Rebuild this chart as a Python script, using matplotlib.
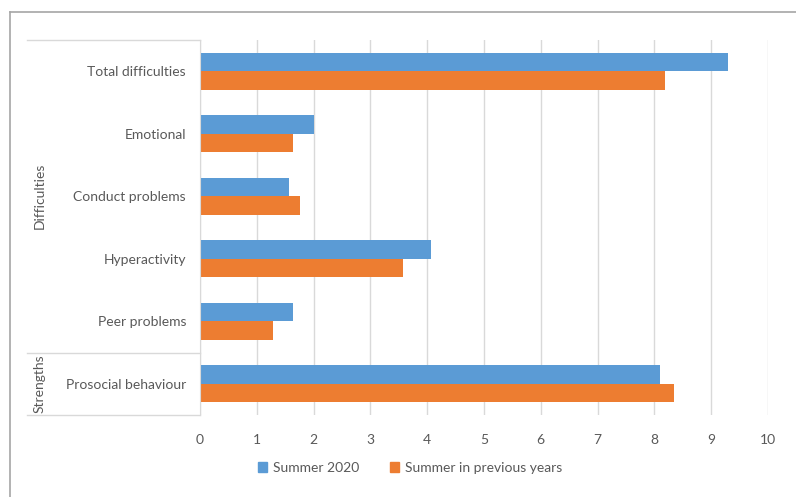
import numpy as np
import matplotlib
matplotlib.use("Agg")
import matplotlib.pyplot as plt
import matplotlib.transforms as mtransforms
from matplotlib.lines import Line2D
from matplotlib.patches import Patch

# data (top to bottom as in the chart)
categories = ["Total difficulties", "Emotional", "Conduct problems",
              "Hyperactivity", "Peer problems", "Prosocial behaviour"]
summer_2020 = [9.29, 2.01, 1.57, 4.07, 1.64, 8.09]
summer_prev = [8.18, 1.64, 1.76, 3.57, 1.29, 8.34]
x_ticks = list(range(0, 11))

blue = "#5B9BD5"
orange = "#ED7D31"
text_col = "#595959"
grid_col = "#D9D9D9"

plt.rcParams["font.family"] = ["Lato", "DejaVu Sans"]

W, H = 796, 497
fig = plt.figure(figsize=(W / 100, H / 100), dpi=100)
ax = fig.add_axes([200 / W, 1 - 415 / H, 568 / W, 375 / H])

n = len(categories)
y = np.arange(n)[::-1]  # first category at top
h = 0.296
ax.barh(y + h / 2, summer_2020, height=h, color=blue, label="Summer 2020", zorder=3)
ax.barh(y - h / 2, summer_prev, height=h, color=orange, label="Summer in previous years", zorder=3)

ax.set_xlim(0, 10)
ax.set_ylim(-0.5, n - 0.5)
ax.set_xticks(x_ticks)
ax.set_yticks(y)
ax.set_yticklabels(categories)
ax.tick_params(axis="both", length=0, labelsize=10, labelcolor=text_col)
ax.tick_params(axis="y", pad=10)
ax.tick_params(axis="x", pad=14)
ax.grid(axis="x", color=grid_col, linewidth=1, zorder=0)
for s in ["top", "right", "bottom"]:
    ax.spines[s].set_visible(False)
ax.spines["left"].set_color(grid_col)
ax.spines["left"].set_zorder(4)

# multi-level category box lines
xl = (27 - 200) / 568
box_kw = dict(color=grid_col, linewidth=1, clip_on=False)
ax.plot([xl, 0], [1, 1], transform=ax.transAxes, **box_kw)
ax.plot([xl, 0], [0, 0], transform=ax.transAxes, **box_kw)
blend = mtransforms.blended_transform_factory(ax.transAxes, ax.transData)
ax.plot([xl, 0], [0.5, 0.5], transform=blend, **box_kw)

# group labels
ax.text(-0.283, 3.0, "Difficulties", transform=blend, rotation=90,
        ha="center", va="center", fontsize=10, color=text_col)
ax.text(-0.283, 0.0, "Strengths", transform=blend, rotation=90,
        ha="center", va="center", fontsize=10, color=text_col)

# outer frame (left and top)
frame_col = "#A6A6A6"
fig.add_artist(Line2D([10 / W, 10 / W], [0, 1 - 12 / H], color=frame_col, linewidth=1.2))
fig.add_artist(Line2D([10 / W, 1], [1 - 12 / H, 1 - 12 / H], color=frame_col, linewidth=1.2))

handles = [Patch(color=blue, label="Summer 2020"),
           Patch(color=orange, label="Summer in previous years")]
fig.legend(handles=handles, loc="center", bbox_to_anchor=(410 / W, 1 - 468 / H),
           ncol=2, frameon=False, handlelength=0.7, handleheight=0.7,
           handletextpad=0.4, columnspacing=2.2, fontsize=10, labelcolor=text_col)

fig.savefig("out.png", dpi=100)
